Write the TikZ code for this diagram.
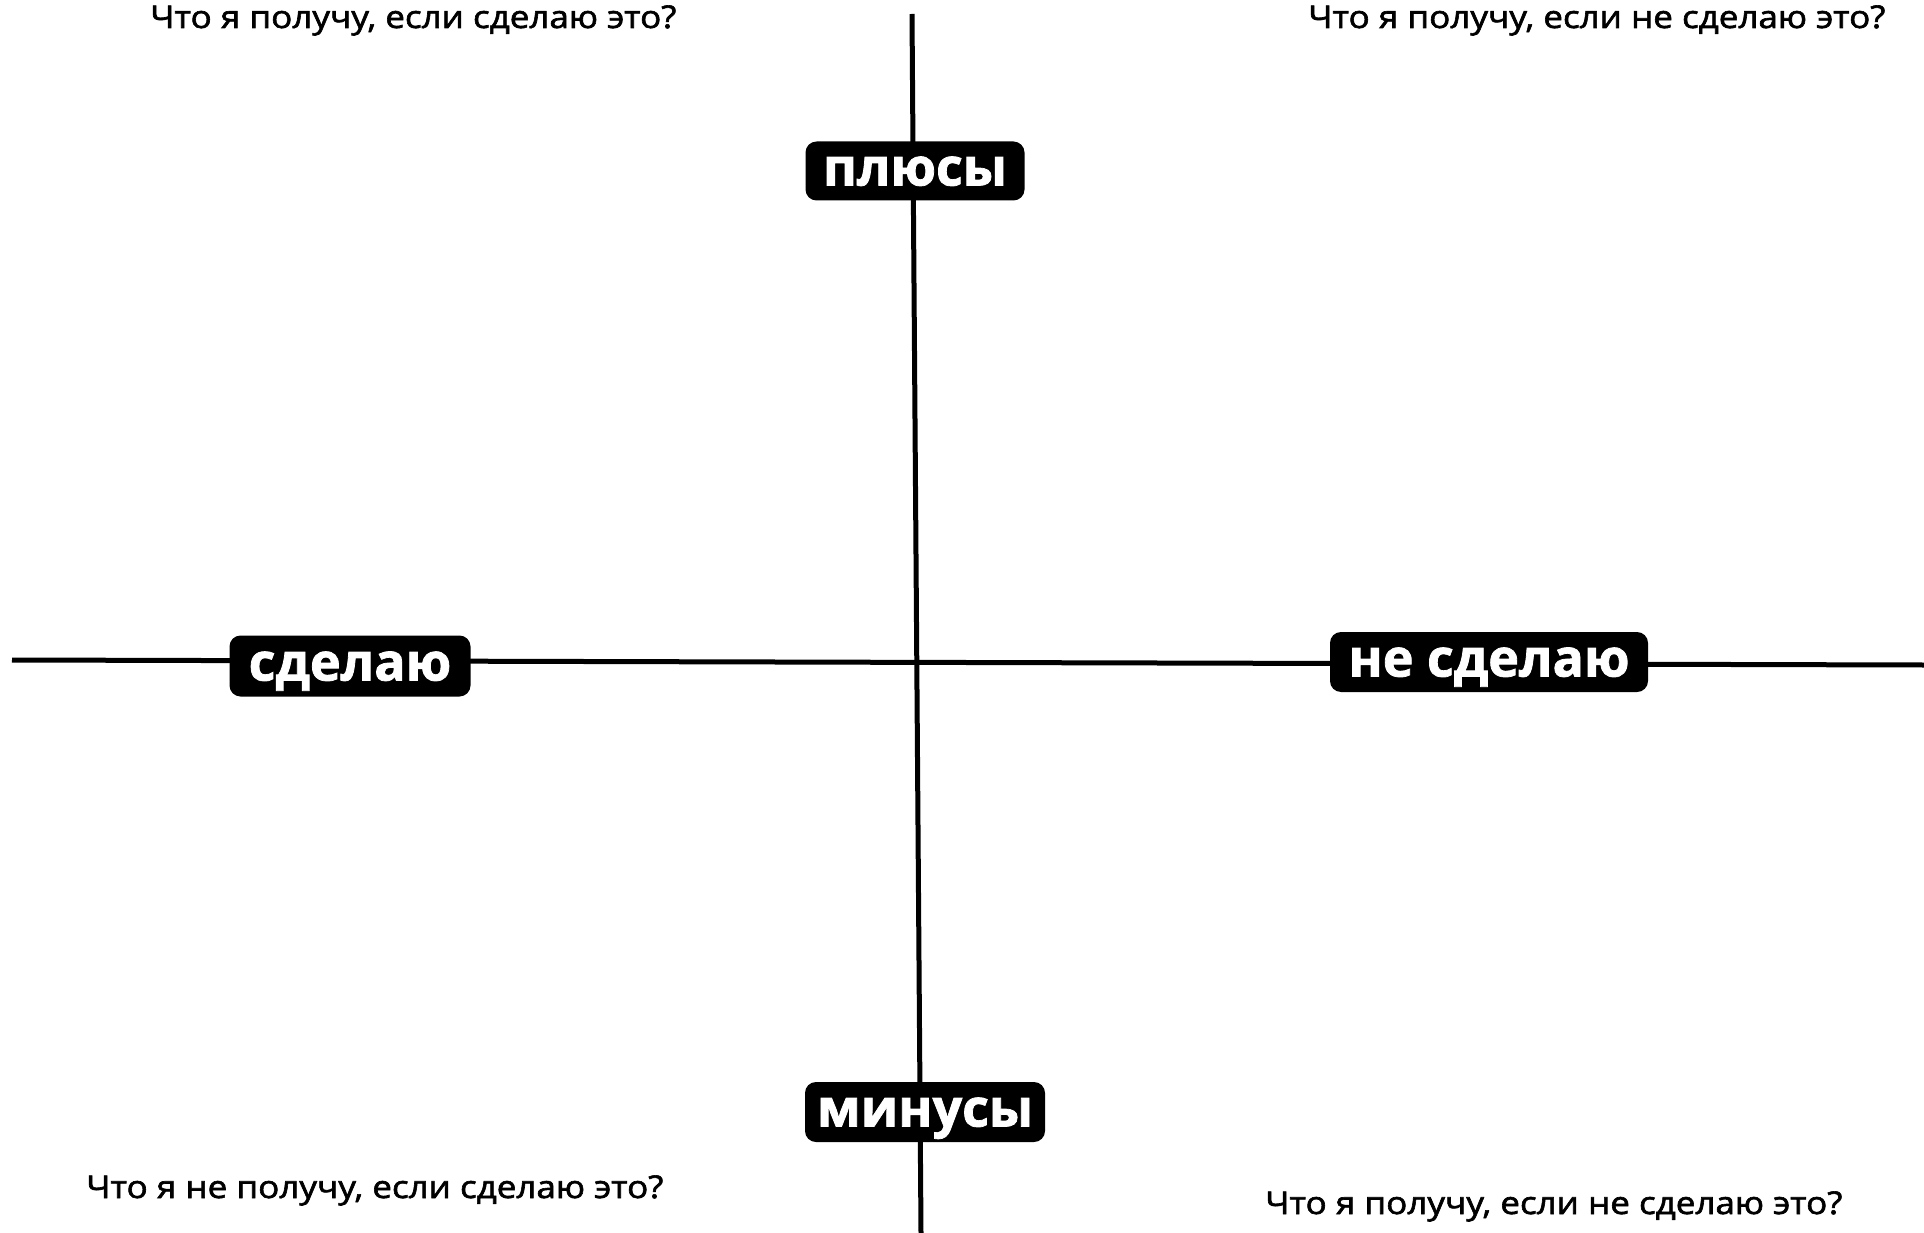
\documentclass[tikz,border=0pt]{standalone}
\usepackage{fontspec}
\setmainfont{Open Sans}[BoldFeatures={FakeBold=1.5}]
\newfontfamily\qfont[FakeBold=2,FakeStretch=1.12]{Open Sans}
\begin{document}
\begin{tikzpicture}[x=1pt,y=-1pt,
  tag/.style={fill=black, text=white, rounded corners=11pt, inner sep=0pt,
    font=\fontsize{52}{52}\selectfont\bfseries, text depth=0pt},
  question/.style={font=\qfont\fontsize{31.3}{31.3}\selectfont, text=black, inner sep=0pt, anchor=base west},
  axis/.style={line width=5pt, black}]
\useasboundingbox[fill=white] (0,0) rectangle (1924,1233);
\coordinate (top) at (912,14);
\coordinate (bottom) at (921,1233);
\coordinate (left) at (12,660);
\coordinate (right) at (1924,665);
\draw[axis] (top) -- (bottom);
\draw[axis] (left) -- (right);
\node[tag, minimum width=219pt, minimum height=59pt] (plus) at (915,171) {плюсы};
\node[tag, minimum width=241pt, minimum height=61pt] (do) at (350,666) {сделаю};
\node[tag, minimum width=318pt, minimum height=60pt] (notdo) at (1489,662) {не сделаю};
\node[tag, minimum width=240pt, minimum height=60pt] (minus) at (925,1112) {минусы};
\node[question] (q1) at (150,28) {Что я получу, если сделаю это?};
\node[question] (q2) at (1308,28) {Что я получу, если не сделаю это?};
\node[question] (q3) at (86,1198) {Что я не получу, если сделаю это?};
\node[question] (q4) at (1265,1214) {Что я получу, если не сделаю это?};
\end{tikzpicture}
\end{document}
